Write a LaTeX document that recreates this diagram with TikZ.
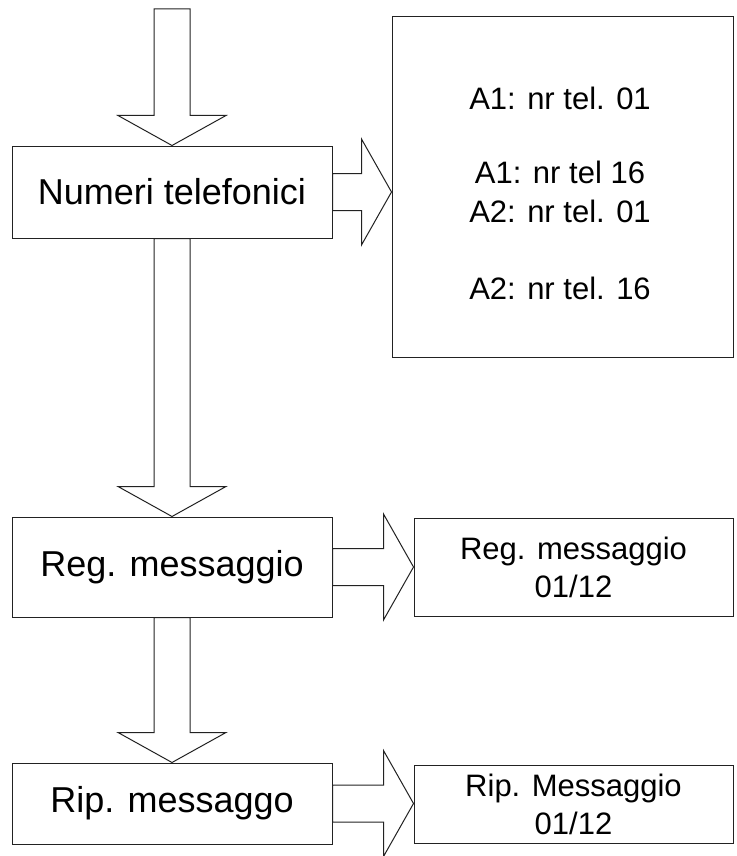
\documentclass[tikz,border=0pt]{standalone}
\usepackage{fontspec}
\setmainfont{Liberation Sans}
\usepackage{tikz}
\usetikzlibrary{calc,positioning}
\definecolor{linea}{HTML}{222222}
\newcommand{\grande}{\fontsize{36}{43}\selectfont}
\newcommand{\piccolo}{\fontsize{31}{38}\selectfont}
% frecce a blocco: da un punto (o ancora) a un altro
\newcommand{\frecciagiu}[2]{%
  \draw[bloque] let \p1=(#1), \p2=(#2) in
    (\x1-18pt,\y1) -- (\x1-18pt,\y2+30pt) -- (\x1-54pt,\y2+30pt) -- (\x1,\y2)
    -- (\x1+54pt,\y2+30pt) -- (\x1+18pt,\y2+30pt) -- (\x1+18pt,\y1) -- cycle;}
\newcommand{\frecciadestra}[2]{%
  \draw[bloque] let \p1=(#1), \p2=(#2) in
    (\x1,\y1+18.5pt) -- (\x2-30pt,\y1+18.5pt) -- (\x2-30pt,\y1+53pt) -- (\x2,\y1)
    -- (\x2-30pt,\y1-53pt) -- (\x2-30pt,\y1-18.5pt) -- (\x1,\y1-18.5pt) -- cycle;}
\tikzset{
  caja/.style={draw=linea,line width=1pt,fill=white,inner sep=0pt,align=center,minimum width=320pt},
  cajagrande/.style={caja,font=\grande},
  cajadato/.style={caja,font=\piccolo,minimum width=319pt},
  texto/.style={font=\fontsize{31}{39}\selectfont,align=center,inner sep=0pt},
  bloque/.style={draw=linea,line width=1pt,fill=white,line join=miter},
}
\begin{document}
\begin{tikzpicture}[x=1pt,y=-1pt]
  \useasboundingbox[fill=white] (0,0) rectangle (736,856);
  \coordinate (inizio) at (172,9);
  % colonna sinistra
  \node[cajagrande,minimum height=92pt] (numeri) at (172,192) {Numeri telefonici};
  \node[cajagrande,minimum height=100pt] (regmsg) at (172,567) {Reg. messaggio};
  \node[cajagrande,minimum height=81pt] (ripmsg) at (172,803.5) {Rip. messaggo};
  % colonna destra
  \node[caja,minimum width=341pt,minimum height=340pt] (lista) at (562.5,187) {};
  \node[texto] (telefoni) at (560,193) {A1: nr tel. 01\\[35pt]A1: nr tel 16\\A2: nr tel. 01\\[38pt]A2: nr tel. 16};
  \node[cajadato,minimum height=98pt] (regdata) at (573.5,567) {Reg. messaggio\\01/12};
  \node[cajadato,minimum height=78pt] (ripdata) at (573.5,804) {Rip. Messaggio\\01/12};
  % frecce
  \frecciagiu{inizio}{numeri.north}
  \frecciagiu{numeri.south}{regmsg.north}
  \frecciagiu{regmsg.south}{ripmsg.north}
  \frecciadestra{numeri.east}{lista.west}
  \frecciadestra{regmsg.east}{regdata.west}
  \frecciadestra{ripmsg.east}{ripdata.west}
\end{tikzpicture}
\end{document}
